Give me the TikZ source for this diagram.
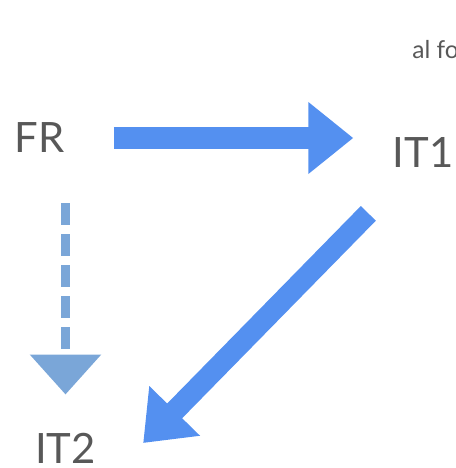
\documentclass[tikz,border=0pt]{standalone}
\usepackage{fontspec}
\setmainfont{Lato}
\usetikzlibrary{arrows.meta}
\definecolor{arrowblue}{RGB}{84,144,240}
\definecolor{dashblue}{RGB}{122,166,216}
\definecolor{labelgray}{RGB}{88,88,88}
\tikzset{
  country/.style={inner sep=0pt, text=labelgray, font=\fontsize{23.8}{28}\selectfont},
  bigarrow/.style={draw=arrowblue, line width=0.44cm, -{Triangle[width=1.38cm,length=0.9cm]}},
  dasharrow/.style={draw=dashblue, line width=0.2cm, dash pattern=on 0.44cm off 0.18cm, -{Triangle[width=1.38cm,length=0.8cm]}}
}
\begin{document}
\begin{tikzpicture}[x=0.02cm,y=-0.02cm]
\useasboundingbox (0,0) rectangle (456,468);

\node[country] (fr) at (39.5,138) {FR};
\node[country] (it1) at (423,152) {IT1};
\node[country] (it2) at (65.5,448.5) {IT2};
\node[inner sep=0pt, text=labelgray, font=\fontsize{14}{16}\selectfont, anchor=base west] (note) at (412,58) {al fo};

\draw[bigarrow, shorten <=0.98cm, shorten >=0.78cm] (fr.east) -- (fr.east -| it1.west);
\draw[dasharrow, shorten <=1cm, shorten >=0.77cm] (it2.north |- fr.south) -- (it2.north);
\draw[bigarrow, line width=0.42cm, -{Triangle[width=1.36cm,length=0.9cm]}] ([xshift=-0.48cm,yshift=-0.92cm]it1.south west) -- ([xshift=0.94cm,yshift=0.11cm]it2.east);
\end{tikzpicture}
\end{document}
